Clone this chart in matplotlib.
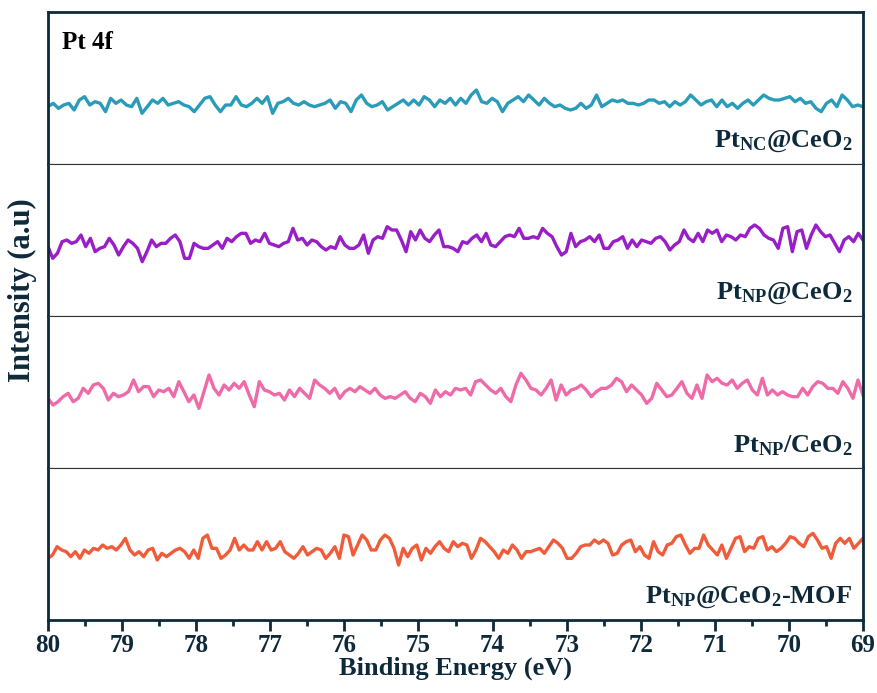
import numpy as np
import matplotlib
matplotlib.use("Agg")
import matplotlib.pyplot as plt

# Pt 4f XPS spectra, binding energy 80 -> 69 eV (intensity in arbitrary units)
be_start, be_end = 80, 69

int_nc_ceo2 = [70, 80, 65, 75, 80, 60, 90, 100, 75, 85, 80, 55, 95, 80, 90, 75, 70, 95, 50, 70,
               90, 80, 95, 75, 80, 85, 75, 70, 55, 75, 95, 100, 75, 55, 75, 75, 100, 75, 70, 80,
               95, 80, 100, 50, 80, 85, 95, 80, 75, 85, 75, 70, 75, 80, 90, 65, 85, 80, 55, 90,
               105, 80, 70, 75, 85, 60, 70, 80, 90, 75, 90, 75, 100, 90, 70, 90,
               80, 95, 75, 95, 80, 105, 120, 85, 80, 95, 85, 55, 80, 90, 100, 85, 105, 90, 75, 95,
               80, 70, 75, 65, 60, 65, 80, 65, 75, 105, 70, 80, 90, 85, 90, 80, 80, 75, 80, 90,
               90, 80, 85, 70, 85, 75, 85, 105, 90, 75, 85, 90, 70, 90, 70, 80, 65, 80, 90, 75,
               90, 105, 95, 90, 90, 95, 100, 85, 95, 80, 85, 65, 55, 80, 90, 70, 105, 90, 70, 75, 70]

int_np_ceo2 = [55, 20, 35, 70, 75, 65, 70, 90, 55, 80, 40, 50, 55, 80, 60, 30, 55, 75, 65, 50,
               10, 40, 75, 55, 65, 65, 80, 90, 70, 20, 20, 65, 55, 50, 50, 60, 70, 50, 80, 70,
               85, 95, 95, 65, 75, 70, 95, 65, 60, 55, 65, 70, 110, 75, 80, 60, 75, 70, 55, 45,
               55, 50, 85, 60, 50, 50, 60, 90, 35, 75, 85, 80, 115, 105, 105, 75, 40, 100, 75, 105,
               80, 70, 90, 105, 55, 55, 50, 40, 70, 65, 80, 90, 70,
               95, 60, 55, 70, 85, 90, 85, 110, 80, 80, 85, 80, 110, 95, 85, 55, 30, 40, 95, 55,
               70, 75, 85, 70, 90, 50, 50, 70, 75, 85, 50, 75, 55, 75, 70, 65, 80, 85, 70, 45,
               60, 70, 105, 80, 70, 95, 70, 105, 95, 105, 70, 90, 85, 75, 90, 85, 110, 120, 110, 90,
               80, 75, 50, 110, 115, 40, 100, 105, 50, 90, 120, 100, 85, 90, 65, 40, 75, 85, 70, 95, 75]

int_np_slash = [50, 30, 40, 55, 65, 40, 50, 80, 65, 90, 95, 80, 45, 65, 55, 60, 70, 105, 70, 85,
                85, 55, 75, 70, 80, 55, 100, 70, 40, 60, 20, 70, 120, 80, 60, 90, 75, 95, 80, 100,
                60, 25, 100, 75, 70, 60, 65, 45, 75, 55, 80, 65, 50, 105, 90, 80, 65, 80, 50, 70,
                80, 70, 85, 75, 65, 80, 60, 50, 55, 50, 60, 70, 50, 40, 65, 55, 35, 75, 55,
                70, 60, 80, 75, 80, 60, 100, 105, 90, 75, 65, 80, 55, 40, 90, 125, 105, 80, 75, 60,
                80, 105, 45, 90, 60, 75, 80, 90, 75, 55, 70, 80, 80, 90, 110, 100, 70, 90, 75, 60,
                35, 50, 95, 75, 55, 60, 80, 100, 65, 50, 90, 50, 120, 100, 110, 95, 90, 105, 80, 95,
                105, 75, 60, 110, 60, 75, 60, 70, 60, 55, 55, 80, 60, 85, 100, 95, 80, 80, 65, 100,
                80, 50, 105, 60]

int_np_mof = [50, 60, 85, 75, 70, 55, 70, 50, 75, 65, 80, 75, 90, 80, 85, 75, 90, 110, 75, 60,
              70, 55, 75, 80, 45, 65, 55, 65, 75, 80, 70, 50, 75, 50, 110, 120, 80, 80, 50, 60,
              75, 110, 75, 90, 75, 75, 100, 75, 100, 75, 80, 100, 70, 60, 50, 65, 85, 60, 70, 80,
              75, 50, 65, 85, 50, 120, 115, 60, 90, 120, 105, 75, 75, 105, 120, 110, 80, 30, 80, 55,
              80, 90, 45, 80, 65, 85, 100, 80, 70, 100,
              85, 95, 90, 50, 75, 110, 100, 85, 70, 50, 75, 65, 90, 75, 50, 70, 70, 75, 80, 65,
              85, 105, 95, 80, 50, 50, 65, 85, 90, 90, 105, 95, 105, 95, 60, 65, 90, 100, 105, 70,
              85, 60, 50, 100, 70, 60, 90, 95, 115, 120, 90, 65, 80, 80, 120, 90, 75, 60, 90, 50,
              80, 110, 115, 70, 85, 80, 110, 115, 75, 85, 70, 80, 95, 115, 110, 95, 85, 115, 125, 105,
              80, 85, 50, 95, 110, 95, 110, 80, 95, 110]

series = [int_nc_ceo2, int_np_ceo2, int_np_slash, int_np_mof]
labels = [r"$\mathrm{Pt_{NC}@CeO_2}$", r"$\mathrm{Pt_{NP}@CeO_2}$",
          r"$\mathrm{Pt_{NP}/CeO_2}$", r"$\mathrm{Pt_{NP}@CeO_2}$-MOF"]
colors = ["#2a9cb9", "#9a1ec8", "#ef6aa8", "#f05c3a"]
ylims = [(-102, 354), (-153, 303), (-159, 297), (-135, 321)]

INK = "#0e2a3a"
plt.rcParams["font.family"] = ["Liberation Serif", "DejaVu Serif"]
plt.rcParams["font.weight"] = "bold"
plt.rcParams["mathtext.fontset"] = "custom"
plt.rcParams["mathtext.rm"] = "Liberation Serif:bold"
plt.rcParams["mathtext.it"] = "Liberation Serif:bold"
plt.rcParams["mathtext.bf"] = "Liberation Serif:bold"

W, H = 877, 693
fig = plt.figure(figsize=(W / 100, H / 100), dpi=100)
left, right, top, bottom = 48, 863, 12, 620
ph = (bottom - top) / 4

axes = []
for i, (vals, lab, col, yl) in enumerate(zip(series, labels, colors, ylims)):
    y0 = H - top - (i + 1) * ph
    ax = fig.add_axes([left / W, y0 / H, (right - left) / W, ph / H])
    x = np.linspace(be_start, be_end, len(vals))
    ax.plot(x, vals, color=col, lw=2.4, solid_joinstyle="round")
    ax.set_xlim(be_start, be_end)
    ax.set_ylim(*yl)
    ax.set_yticks([])
    for side in ["left", "right"]:
        ax.spines[side].set_linewidth(2.0)
        ax.spines[side].set_color(INK)
    ax.spines["top"].set_linewidth(2.0 if i == 0 else 0.8)
    ax.spines["bottom"].set_linewidth(2.0 if i == 3 else 0.8)
    ax.spines["top"].set_color(INK if i == 0 else "#333333")
    ax.spines["bottom"].set_color(INK if i == 3 else "#333333")
    ax.text(0.987, 0.065, lab, transform=ax.transAxes, ha="right", va="bottom",
            fontsize=19, color=INK)
    if i < 3:
        ax.tick_params(axis="x", which="both", bottom=False, labelbottom=False)
    axes.append(ax)

axes[0].text(0.017, 0.80, "Pt 4f", transform=axes[0].transAxes, fontsize=18,
             fontweight="bold", color="black", ha="left", va="center")

axb = axes[-1]
axb.set_xticks(np.arange(69, 81, 1))
axb.set_xticks(np.arange(69.5, 80, 1), minor=True)
axb.tick_params(axis="x", which="major", direction="out", length=8, width=2,
                color=INK, labelsize=18, labelcolor=INK, pad=2)
axb.tick_params(axis="x", which="minor", direction="out", length=4.5, width=2, color=INK)
axb.set_xlabel("Binding Energy (eV)", fontsize=19, fontweight="bold", color=INK, labelpad=0)

fig.text(22 / W, 1 - 290 / H, "Intensity (a.u)", rotation=90, ha="center", va="center",
         fontsize=22, fontweight="bold", color=INK)

fig.savefig("out.png", dpi=100)
